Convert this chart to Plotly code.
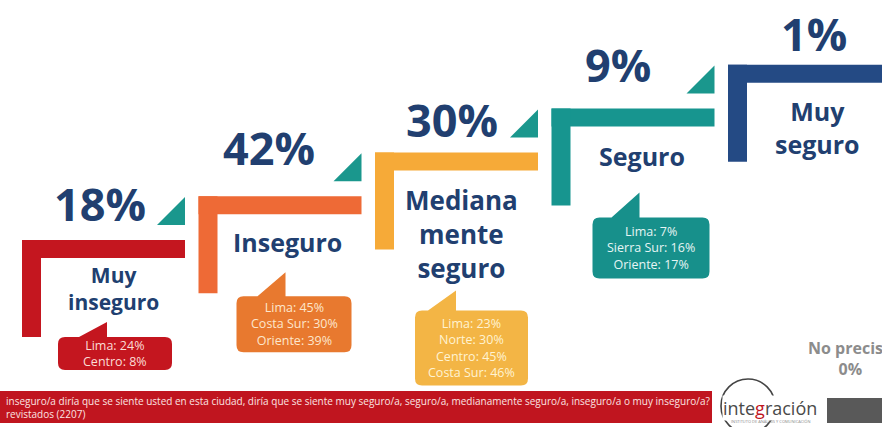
import plotly.graph_objects as go

# survey answers, shown as a staircase from "Muy inseguro" up to "Muy seguro"
categories = ["Muy inseguro", "Inseguro", "Medianamente seguro", "Seguro", "Muy seguro"]
category_labels = ["Muy<br>inseguro", "Inseguro", "Mediana<br>mente<br>seguro", "Seguro", "Muy<br>seguro"]
percentages = [18, 42, 30, 9, 1]

# regional highlights shown in the speech bubbles
region_names = [
    ["Lima", "Centro"],
    ["Lima", "Costa Sur", "Oriente"],
    ["Lima", "Norte", "Centro", "Costa Sur"],
    ["Lima", "Sierra Sur", "Oriente"],
    [],
]
region_values = [
    [24, 8],
    [45, 30, 39],
    [23, 30, 45, 46],
    [7, 16, 17],
    [],
]

no_precisa_label = "No precisa"
no_precisa_value = 0

question = ("inseguro/a diría que se siente usted en esta ciudad, diría que se siente muy seguro/a, "
            "seguro/a, medianamente seguro/a, inseguro/a o muy inseguro/a?")
base_note = "revistados (2207)"

# ---- layout / styling (page works in pixel units: x 0..882, y 0..427 top-down)
W, H = 882, 427
STEP_X0, STEP_Y0 = 22, 240
STEP_DX, STEP_DY = 176.5, 43.8
BAR_W, BAR_T, LEG_W, LEG_H = 163, 18, 19, 97

step_colors = ["#C4161F", "#EE6A36", "#F6AA38", "#17958F", "#244A84"]
bubble_colors = ["#C4161F", "#E8792F", "#F3B545", "#17908B"]
bubble_text = ["#FBDCD6", "#FDE6CC", "#FFF3D2", "#E6F5F4"]
TRIANGLE = "#1A978D"
DARK_BLUE = "#213F70"
FONT = "Open Sans"

pct_offsets = [(78, -37), (70, -49), (77, -33), (66, -44), (86, -31)]
label_offsets = [(91, 48, 21), (89, 46, 25), (86, 82, 26), (90, 47, 25), (89, 63, 25)]
# x0, x1, y0, y1, tip x, tip y  (relative to step origin)
bubble_boxes = [
    (36, 150, 97, 130, 85, 82),
    (38, 153, 100, 156, 87, 76),
    (40, 153, 158, 233, 81, 138),
    (41, 158, 109, 170, 88, 84),
]


def bubble_path(x0, x1, y0, y1, tx, ty, r=7, tail=28):
    return (f"M{x0 + r},{y0} L{tx - tail},{y0} L{tx},{ty} L{tx},{y0} L{x1 - r},{y0} "
            f"Q{x1},{y0} {x1},{y0 + r} L{x1},{y1 - r} Q{x1},{y1} {x1 - r},{y1} "
            f"L{x0 + r},{y1} Q{x0},{y1} {x0},{y1 - r} L{x0},{y0 + r} Q{x0},{y0} {x0 + r},{y0} Z")


fig = go.Figure()
shapes = []
annotations = []

for i, cat in enumerate(categories):
    x0 = STEP_X0 + i * STEP_DX
    top = STEP_Y0 - i * STEP_DY
    color = step_colors[i]
    right = x0 + BAR_W if i < len(categories) - 1 else W + 10

    # the "L" step
    shapes.append(dict(type="rect", x0=x0, x1=right, y0=top, y1=top + BAR_T,
                       fillcolor=color, line_width=0, layer="below"))
    shapes.append(dict(type="rect", x0=x0, x1=x0 + LEG_W, y0=top, y1=top + LEG_H,
                       fillcolor=color, line_width=0, layer="below"))

    # small teal triangle at the end of each step
    if i < len(categories) - 1:
        shapes.append(dict(type="path",
                           path=f"M{x0 + 135},{top - 15} L{x0 + 163},{top - 15} L{x0 + 163},{top - 43} Z",
                           fillcolor=TRIANGLE, line_width=0))

    dx, dy = pct_offsets[i]
    annotations.append(dict(x=x0 + dx, y=top + dy, text=f"<b>{percentages[i]}%</b>",
                            showarrow=False, font=dict(family=FONT, size=45, color=DARK_BLUE)))

    lx, ly, ls = label_offsets[i]
    annotations.append(dict(x=x0 + lx, y=top + ly, text=f"<b>{category_labels[i]}</b>",
                            showarrow=False, font=dict(family=FONT, size=ls, color=DARK_BLUE)))

    if region_names[i]:
        bx0, bx1, by0, by1, tx, ty = bubble_boxes[i]
        shapes.append(dict(type="path",
                           path=bubble_path(x0 + bx0, x0 + bx1, top + by0, top + by1, x0 + tx, top + ty),
                           fillcolor=bubble_colors[i], line_width=0))
        txt = "<br>".join(f"{n}: {v}%" for n, v in zip(region_names[i], region_values[i]))
        annotations.append(dict(x=x0 + (bx0 + bx1) / 2, y=top + (by0 + by1) / 2, text=txt,
                                showarrow=False,
                                font=dict(family=FONT, size=12.5, color=bubble_text[i])))

# "No precisa" (cut by the right edge, as in the slide)
annotations.append(dict(x=850, y=358, text=f"<b>{no_precisa_label}<br>{no_precisa_value}%</b>",
                        showarrow=False, font=dict(family=FONT, size=16, color="#8C8C8C")))

# footer band with the question
shapes.append(dict(type="rect", x0=0, x1=712, y0=391, y1=423, fillcolor="#C0151F", line_width=0))
annotations.append(dict(x=4, y=407, xanchor="left", align="left", text=f"{question}<br>{base_note}",
                        showarrow=False, font=dict(family=FONT, size=10, color="#FBE4E2")))

# logo
shapes.append(dict(type="circle", x0=721, x1=775, y0=379, y1=433,
                   line=dict(color="#444444", width=1.6), fillcolor="rgba(0,0,0,0)"))
annotations.append(dict(x=770, y=408, text="inte<span style='color:#C0151F'>g</span>ración",
                        showarrow=False, borderpad=0,
                        font=dict(family=FONT, size=18, color="#4A4A4A"), bgcolor="white"))
annotations.append(dict(x=770, y=421.5, text="INSTITUTO DE ANÁLISIS Y COMUNICACIÓN",
                        showarrow=False, borderpad=0, font=dict(family=FONT, size=4, color="#8A8A8A")))
shapes.append(dict(type="rect", x0=827, x1=W + 5, y0=398, y1=423, fillcolor="#595959", line_width=0))

fig.update_layout(
    width=W, height=H,
    margin=dict(l=0, r=0, t=0, b=0),
    paper_bgcolor="white", plot_bgcolor="white",
    showlegend=False,
    shapes=shapes,
    annotations=annotations,
    xaxis=dict(range=[0, W], visible=False, fixedrange=True),
    yaxis=dict(range=[H, 0], visible=False, fixedrange=True),
)

# drop the default page margin so the figure sits at the window's top-left corner
fig.write_html("out.html", config={"displayModeBar": False},
               post_script="document.body.style.margin='0';")
